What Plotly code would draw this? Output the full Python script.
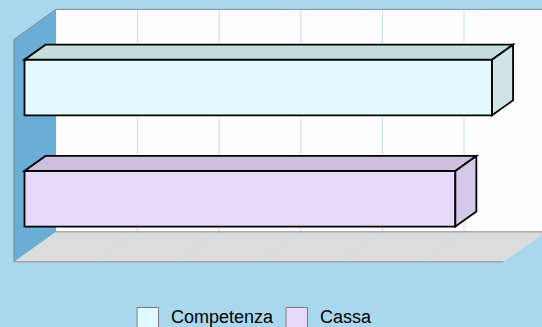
import plotly.graph_objects as go

# ---------------- data ----------------
categories = ["Competenza", "Cassa"]
values = [5.73, 5.28]
grid_ticks = [0, 1, 2, 3, 4, 5, 6]

# ---------------- styles ----------------
front_colors = ["#E0FAFF", "#E6DAFA"]
top_colors = ["#C3DEDB", "#CCC0E0"]
side_colors = ["#CDE3E5", "#D4CAE8"]
bg_color = "#A9D8EE"
wall_left_color = "#6AAED6"
floor_color = "#DCDCDC"
back_wall_color = "#FDFDFD"
grid_color = "#C6DFEA"
edge_color = "#7F8890"

W, H = 542, 327
PX_PER_UNIT = 81.6      # horizontal pixels per value unit
PX_PER_CAT = 111.25     # vertical pixels per category
X0_PX = 24.5            # pixel of value 0 on bar front plane
Y0_PX = 87.5            # pixel of first category centre
DEPTH_X = 42 / PX_PER_UNIT
DEPTH_Y = 30 / PX_PER_CAT
BAR_W = 0.5

def P(v, yi, z):
    """3D (value, category position, depth 0..1) -> data coords on front plane axes."""
    return v + (z - 0.25) * DEPTH_X, yi - (z - 0.25) * DEPTH_Y

def path(pts):
    return "M " + " L ".join(f"{x:.5f},{y:.5f}" for x, y in pts) + " Z"

def line_path(pts):
    return "M " + " L ".join(f"{x:.5f},{y:.5f}" for x, y in pts)

vmax = grid_ticks[-1]
ylo, yhi = -0.5, len(categories) - 0.5

shapes = []
# back wall
shapes.append(dict(type="path", xref="x", yref="y", layer="below",
                   path=path([P(0, ylo, 1), P(vmax, ylo, 1), P(vmax, yhi, 1), P(0, yhi, 1)]),
                   fillcolor=back_wall_color, line=dict(width=0)))
# back wall gridlines
for t in grid_ticks[1:]:
    shapes.append(dict(type="path", xref="x", yref="y", layer="below",
                       path=line_path([P(t, ylo, 1), P(t, yhi, 1)]),
                       line=dict(color=grid_color, width=1)))
# left wall
shapes.append(dict(type="path", xref="x", yref="y", layer="below",
                   path=path([P(0, ylo, 0), P(0, ylo, 1), P(0, yhi, 1), P(0, yhi, 0)]),
                   fillcolor=wall_left_color, line=dict(width=0)))
# floor
shapes.append(dict(type="path", xref="x", yref="y", layer="below",
                   path=path([P(0, yhi, 0), P(vmax, yhi, 0), P(vmax, yhi, 1), P(0, yhi, 1)]),
                   fillcolor=floor_color, line=dict(width=0)))
# floor gridlines
for t in grid_ticks[1:]:
    shapes.append(dict(type="path", xref="x", yref="y", layer="below",
                       path=line_path([P(t, yhi, 0), P(t, yhi, 1)]),
                       line=dict(color=grid_color, width=1)))
# edges
edges = [
    [P(0, ylo, 1), P(vmax, ylo, 1)],
    [P(0, yhi, 1), P(vmax, yhi, 1)],
    [P(0, yhi, 0), P(vmax, yhi, 0)],
    [P(0, ylo, 0), P(0, ylo, 1)],
    [P(0, ylo, 0), P(0, yhi, 0)],
]
for e in edges:
    shapes.append(dict(type="path", xref="x", yref="y", layer="below",
                       path=line_path(e), line=dict(color=edge_color, width=1)))

fig = go.Figure()
for i, (cat, val) in enumerate(zip(categories, values)):
    fig.add_trace(go.Bar(
        x=[val], y=[i], base=0, orientation="h", width=BAR_W, name=cat,
        marker=dict(color=front_colors[i], line=dict(color="black", width=1.8)),
        showlegend=False, hoverinfo="x+name"))
    yt, yb = i - BAR_W / 2, i + BAR_W / 2
    # top face
    shapes.append(dict(type="path", xref="x", yref="y", layer="above",
                       path=path([P(0, yt, 0.25), P(val, yt, 0.25), P(val, yt, 0.75), P(0, yt, 0.75)]),
                       fillcolor=top_colors[i], line=dict(color="black", width=1.8)))
    # side face
    shapes.append(dict(type="path", xref="x", yref="y", layer="above",
                       path=path([P(val, yt, 0.25), P(val, yb, 0.25), P(val, yb, 0.75), P(val, yt, 0.75)]),
                       fillcolor=side_colors[i], line=dict(color="black", width=1.8)))

# custom legend (swatches + labels)
legend_swatch_x = [137, 286]
legend_text_x = [169, 318]
sw_top, sw_size, text_y = 307.5, 21.5, 316.5
annotations = []
for i, cat in enumerate(categories):
    shapes.append(dict(type="rect", xref="paper", yref="paper", layer="above",
                       x0=legend_swatch_x[i] / W, x1=(legend_swatch_x[i] + sw_size) / W,
                       y0=1 - sw_top / H, y1=1 - (sw_top + sw_size) / H,
                       fillcolor=front_colors[i], line=dict(color="#7A7A7A", width=1)))
    annotations.append(dict(xref="paper", yref="paper", x=legend_text_x[i] / W, y=1 - text_y / H,
                            xanchor="left", yanchor="middle", showarrow=False, text=cat,
                            font=dict(family="Liberation Sans, Arial, sans-serif", size=18, color="black")))

fig.update_layout(
    width=W, height=H,
    margin=dict(l=0, r=0, t=0, b=0),
    paper_bgcolor=bg_color, plot_bgcolor="rgba(0,0,0,0)",
    barmode="overlay",
    shapes=shapes, annotations=annotations,
    xaxis=dict(range=[-X0_PX / PX_PER_UNIT, (W - X0_PX) / PX_PER_UNIT], visible=False,
               showgrid=False, zeroline=False, fixedrange=True),
    yaxis=dict(range=[(H - Y0_PX) / PX_PER_CAT, -Y0_PX / PX_PER_CAT], visible=False,
               showgrid=False, zeroline=False, fixedrange=True),
    showlegend=False,
)
fig.write_html("out.html", config={"displayModeBar": False},
               post_script="document.body.style.margin='0';document.body.style.overflow='hidden';")
